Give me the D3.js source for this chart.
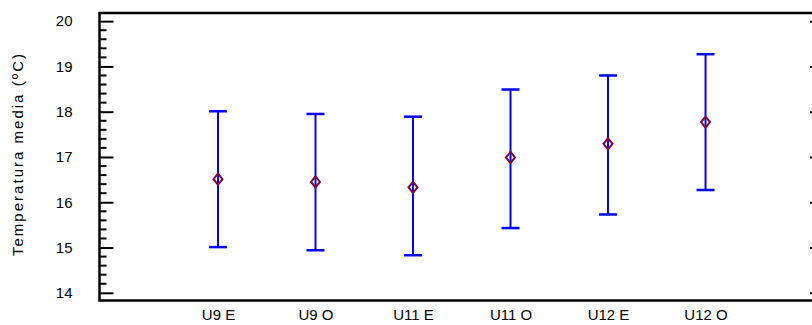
<!DOCTYPE html>
<html>
<head>
<meta charset="utf-8">
<script src="https://cdn.jsdelivr.net/npm/d3@7"></script>
<style>
body { margin: 0; background: white; }
text { font-family: Arial, "Liberation Sans", sans-serif; fill: black; }
</style>
</head>
<body>
<div id="chart"></div>
<script>
// grupos y medias con intervalos
var categories = ["U9 E", "U9 O", "U11 E", "U11 O", "U12 E", "U12 O"];
var means = [16.51, 16.45, 16.33, 16.99, 17.29, 17.77];
var lower = [15.01, 14.94, 14.83, 15.43, 15.73, 16.27];
var upper = [18.01, 17.95, 17.89, 18.49, 18.80, 19.27];
var yTicks = [14, 15, 16, 17, 18, 19, 20];
var yLabel = "Temperatura media (ºC)";

var width = 812, height = 325;
// note: "top" is taken by window.top, so use other names
var pLeft = 99.5, pRight = 824, pTop = 13, pBottom = 300.5;

var data = categories.map(function(c, i){
	return {cat: c, mean: means[i], lo: lower[i], hi: upper[i]};
});

var xscale = d3.scalePoint().domain(categories).range([pLeft, pRight]).padding(1.215);
var yscale = d3.scaleLinear().domain([13.83, 20.18]).range([pBottom, pTop]);

var svg = d3.select("#chart").append("svg")
	.attr("width", width)
	.attr("height", height);

// minor ticks (4 between majors)
var minor = d3.range(14, 20, 0.2).filter(function(v){ return Math.abs(v - Math.round(v)) > 0.01; });

svg.append("g").selectAll("line")
	.data(minor).enter()
	.append("line")
	.attr("x1", pLeft).attr("x2", pLeft + 7)
	.attr("y1", function(d){ return yscale(d); })
	.attr("y2", function(d){ return yscale(d); })
	.style("stroke", "black")
	.style("stroke-width", 2);

var yAxis = d3.axisLeft(yscale)
	.tickValues(yTicks)
	.tickSize(-14)
	.tickPadding(27)
	.tickFormat(d3.format("d"));

var gy = svg.append("g")
	.attr("transform", "translate(" + pLeft + ",0)")
	.call(yAxis);
gy.select(".domain").remove();
gy.selectAll("line").style("stroke", "black").style("stroke-width", 2);
gy.selectAll("text").style("font-size", "15px").style("font-family", "Arial, 'Liberation Sans', sans-serif");

var yAxisR = d3.axisRight(yscale)
	.tickValues(yTicks)
	.tickSize(-14)
	.tickFormat("");
var gr = svg.append("g")
	.attr("transform", "translate(" + pRight + ",0)")
	.call(yAxisR);
gr.select(".domain").remove();
gr.selectAll("line").style("stroke", "black").style("stroke-width", 2);

// frame
svg.append("path")
	.attr("d", "M" + pRight + "," + pTop + "H" + pLeft + "V" + pBottom + "H" + pRight)
	.style("fill", "none")
	.style("stroke", "black")
	.style("stroke-width", 2.5);

// x labels
var xAxis = d3.axisBottom(xscale).tickSize(0).tickPadding(9);
var gx = svg.append("g")
	.attr("transform", "translate(0," + pBottom + ")")
	.call(xAxis);
gx.select(".domain").remove();
gx.selectAll("text").style("font-size", "15px").style("font-family", "Arial, 'Liberation Sans', sans-serif");

svg.append("text")
	.attr("transform", "translate(23,155) rotate(-90)")
	.style("text-anchor", "middle")
	.style("font-size", "15px")
	.attr("textLength", 202)
	.attr("lengthAdjust", "spacing")
	.text(yLabel);

// error bars
var bars = svg.append("g").selectAll("g")
	.data(data).enter()
	.append("g");

bars.append("line")
	.attr("x1", function(d){ return xscale(d.cat); })
	.attr("x2", function(d){ return xscale(d.cat); })
	.attr("y1", function(d){ return yscale(d.lo); })
	.attr("y2", function(d){ return yscale(d.hi); })
	.style("stroke", "#0000ff")
	.style("stroke-width", 2);

bars.selectAll(".cap")
	.data(function(d){ return [{cat: d.cat, v: d.lo}, {cat: d.cat, v: d.hi}]; })
	.enter().append("line")
	.attr("class", "cap")
	.attr("x1", function(d){ return xscale(d.cat) - 9; })
	.attr("x2", function(d){ return xscale(d.cat) + 9; })
	.attr("y1", function(d){ return yscale(d.v); })
	.attr("y2", function(d){ return yscale(d.v); })
	.style("stroke", "#0000ff")
	.style("stroke-width", 2.5);

bars.append("path")
	.attr("transform", function(d){ return "translate(" + xscale(d.cat) + "," + yscale(d.mean) + ")"; })
	.attr("d", "M0,-5.5L4.5,0L0,5.5L-4.5,0Z")
	.style("fill", "none")
	.style("stroke", "#800040")
	.style("stroke-width", 2);
</script>
</body>
</html>
